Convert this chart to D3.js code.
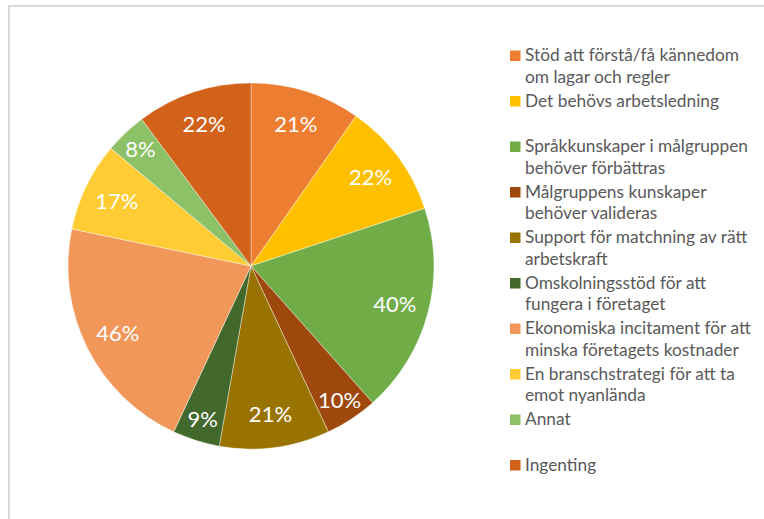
<!DOCTYPE html>
<html>
<head>
<meta charset="utf-8">
<script src="https://cdn.jsdelivr.net/npm/d3@7"></script>
<style>
  body { margin: 0; background: #fff; }
  svg { display: block; font-family: Lato, "Open Sans", sans-serif; }
</style>
</head>
<body>
<div id="chart"></div>
<script>
// categories (line breaks where the legend wraps)
const categories = [
    "Stöd att förstå/få kännedom\nom lagar och regler",
    "Det behövs arbetsledning",
    "Språkkunskaper i målgruppen\nbehöver förbättras",
    "Målgruppens kunskaper\nbehöver valideras",
    "Support för matchning av rätt\narbetskraft",
    "Omskolningsstöd för att\nfungera i företaget",
    "Ekonomiska incitament för att\nminska företagets kostnader",
    "En branschstrategi för att ta\nemot nyanlända",
    "Annat",
    "Ingenting"
];
const values = [21, 22, 40, 10, 21, 9, 46, 17, 8, 22];
const colors = ["#ED7D31", "#FFC000", "#70AD47", "#9E480E", "#997300",
    "#43682B", "#F1975A", "#FFCD33", "#8CC168", "#D2611A"];

const width = 764;
const height = 519;

//pie geometry
const cx = 251, cy = 266, radius = 183;

const data = categories.map((c, i) => ({ label: c, value: values[i], color: colors[i] }));

const svg = d3.select("#chart").append("svg")
    .attr("width", width)
    .attr("height", height)
    .attr("viewBox", [0, 0, width, height]);

//light grey chart frame (runs off the right and bottom edge)
svg.append("rect")
    .attr("x", 9)
    .attr("y", 6)
    .attr("width", 800)
    .attr("height", 600)
    .attr("fill", "none")
    .attr("stroke", "#d9d9d9")
    .attr("stroke-width", 2);

const pie = d3.pie()
    .value(d => d.value)
    .sort(null); //keep the order, start at 12 o'clock going clockwise

const arc = d3.arc()
    .innerRadius(0)
    .outerRadius(radius);

const arcs = pie(data);

const g = svg.append("g")
    .attr("transform", `translate(${cx},${cy})`);

g.selectAll("path")
    .data(arcs)
    .join("path")
    .attr("d", arc)
    .attr("fill", d => d.data.color)
    .attr("stroke", "#fff")
    .attr("stroke-width", 0.4);

//labels near the outer end of each slice, small slices a bit further out
const labelArc = d => {
    const r = d.data.value < 11 ? 161 : 149;
    return d3.arc().innerRadius(r).outerRadius(r);
};

g.selectAll("text")
    .data(arcs)
    .join("text")
    .attr("transform", d => `translate(${labelArc(d).centroid(d)})`)
    .attr("text-anchor", "middle")
    .attr("dy", "0.36em")
    .attr("fill", "#fff")
    .attr("font-size", "22px")
    .text(d => d.data.value + "%");

//legend
const legendX = 510;
const legendY = 61;
const slot = 45.5;
const lineHeight = 21.5;

const legend = svg.append("g")
    .selectAll("g")
    .data(data)
    .join("g")
    .attr("transform", (d, i) => `translate(${legendX},${legendY + i * slot})`);

legend.append("rect")
    .attr("x", 0)
    .attr("y", -10.5)
    .attr("width", 10.5)
    .attr("height", 10.5)
    .attr("fill", d => d.color);

legend.append("text")
    .attr("fill", "#595959")
    .attr("font-size", "17.3px")
    .selectAll("tspan")
    .data(d => d.label.split("\n"))
    .join("tspan")
    .attr("x", 15)
    .attr("y", (d, i) => i * lineHeight)
    .text(d => d);
</script>
</body>
</html>
